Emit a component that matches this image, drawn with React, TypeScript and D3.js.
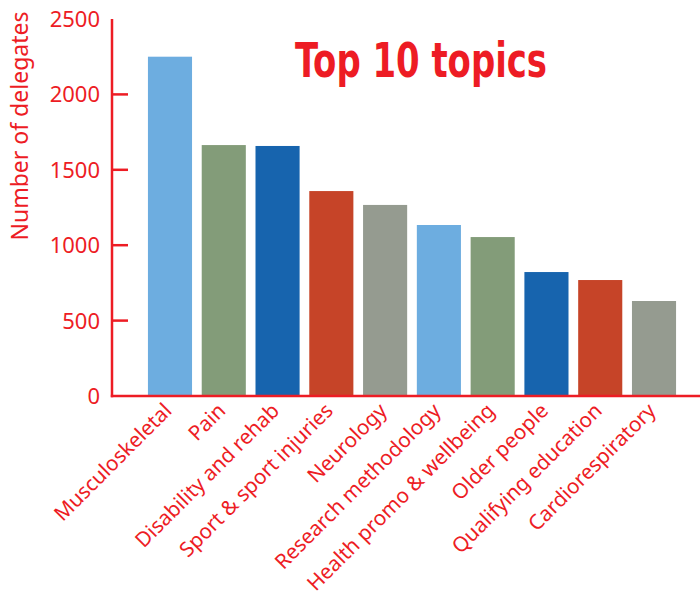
import React from "react";
import * as d3 from "d3";

const categories = [
  "Musculoskeletal",
  "Pain",
  "Disability and rehab",
  "Sport & sport injuries",
  "Neurology",
  "Research methodology",
  "Health promo & wellbeing",
  "Older people",
  "Qualifying education",
  "Cardiorespiratory",
];
const values = [2250, 1664, 1658, 1359, 1267, 1134, 1054, 822, 769, 630];
const barColors = [
  "#6dade0",
  "#839c79",
  "#1764ae",
  "#c64428",
  "#959b90",
  "#6dade0",
  "#839c79",
  "#1764ae",
  "#c64428",
  "#959b90",
];
const yTicks = [0, 500, 1000, 1500, 2000, 2500];

const RED = "#ed1c24";
const W = 700;
const H = 596;
const axisX = 112;
const baseY = 396;
const topY = 19;

export default function App() {
  const x = d3
    .scaleBand<string>()
    .domain(categories)
    .range([143.1, 680.9])
    .paddingInner(0.18)
    .paddingOuter(0.09);
  const y = d3.scaleLinear().domain([0, 2500]).range([baseY, topY]);
  const font = "'Noto Sans', 'Open Sans', 'Liberation Sans', sans-serif";

  return (
    <div style={{ position: "absolute", left: 0, top: 0 }}>
      <svg width={W} height={H} viewBox={`0 0 ${W} ${H}`} style={{ display: "block", background: "#fff" }}>
        {categories.map((c, i) => (
          <rect
            key={c}
            x={x(c)}
            y={y(values[i])}
            width={x.bandwidth()}
            height={baseY - y(values[i])}
            fill={barColors[i]}
          />
        ))}
        {/* axes */}
        <line x1={axisX} x2={axisX} y1={topY} y2={baseY + 1.2} stroke={RED} strokeWidth={2.5} />
        <line x1={axisX - 1.2} x2={W} y1={baseY} y2={baseY} stroke={RED} strokeWidth={2.5} />
        {yTicks.map((t) => (
          <g key={t}>
            {t > 0 && t < 2500 && (
              <line x1={axisX} x2={axisX + 16} y1={y(t)} y2={y(t)} stroke={RED} strokeWidth={2.5} />
            )}
            <text
              x={100}
              y={y(t)}
              dy="0.36em"
              textAnchor="end"
              fontFamily={font}
              fontSize={22}
              fill={RED}
            >
              {t}
            </text>
          </g>
        ))}
        <text
          transform={`translate(28, 126) rotate(-90)`}
          textAnchor="middle"
          fontFamily={font}
          fontSize={23}
          fill={RED}
        >
          Number of delegates
        </text>
        {categories.map((c) => {
          const cx = (x(c) as number) + x.bandwidth() / 2 + 3;
          return (
            <text
              key={c}
              transform={`translate(${cx}, 412) rotate(-45)`}
              textAnchor="end"
              fontFamily={font}
              fontSize={20.7}
              fill={RED}
            >
              {c}
            </text>
          );
        })}
        <text
          x={295}
          y={77}
          textLength={252}
          lengthAdjust="spacingAndGlyphs"
          fontFamily="'Liberation Sans Narrow', 'DejaVu Sans Condensed', 'Liberation Sans', sans-serif"
          fontWeight="bold"
          fontSize={48}
          fill={RED}
        >
          Top 10 topics
        </text>
      </svg>
    </div>
  );
}
